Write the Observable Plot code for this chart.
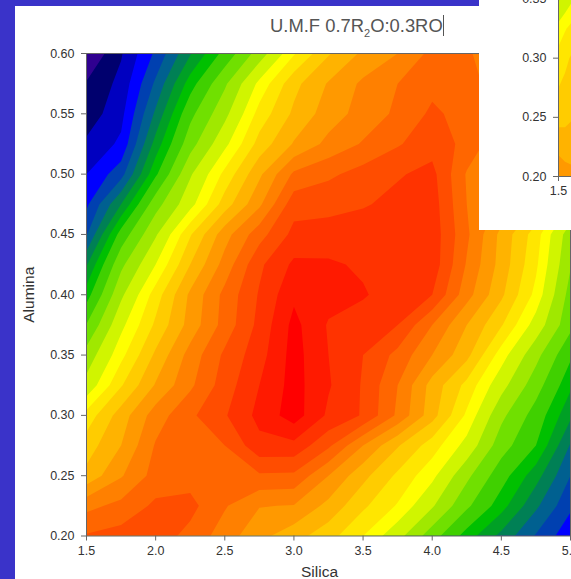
<!DOCTYPE html>
<html><head><meta charset="utf-8">
<script src="https://cdn.jsdelivr.net/npm/d3@7"></script>
<script src="https://cdn.jsdelivr.net/npm/@observablehq/plot@0.6"></script>
<style>
html,body{margin:0;padding:0;width:571px;height:579px;overflow:hidden;background:#3a33c9;font-family:"Liberation Sans",Arial,sans-serif}
#panel{position:absolute;left:15px;top:6px;width:556px;height:573px;background:#fff}
#main{position:absolute;left:0;top:0}
#title{position:absolute;left:270px;top:14px;font-size:18.4px;color:#555;white-space:nowrap;line-height:24px}
#title sub{font-size:11px;line-height:0}
#title span{border-right:1px solid #555}
#xlabel{position:absolute;left:301px;top:563px;font-size:15.5px;color:#333;line-height:18px}
#inset{position:absolute;left:479px;top:0;width:92px;height:230px;background:#fff;overflow:hidden}
#inset>svg{position:absolute;left:0;top:-10px}
</style></head><body>
<div id="panel"></div><div id="main"></div>
<div id="title"><span>U.M.F 0.7R<sub>2</sub>O:0.3RO</span></div>
<div id="xlabel">Silica</div>
<div id="inset"></div>
<script>
const silica=[1.5,1.75,2,2.25,2.5,2.75,3,3.25,3.5,3.75,4,4.25,4.5,4.75,5];
const alumina=[0.6,0.575,0.55,0.525,0.5,0.475,0.45,0.425,0.4,0.375,0.35,0.325,0.3,0.275,0.25,0.225,0.2];
const r060=[0.0,1.9,4.2,6.9,9.4,12.1,14.9,16.9,18.2,19.0,20.3,20.1,19.5,19,18];
const r0575=[1.1,2.3,5.2,8.5,11.3,14.3,16.7,18.1,19.2,20.0,20.7,20.3,19.6,19,18];
const r055=[1.4,2.7,6.2,9.9,12.4,15.4,17.2,18.5,19.4,20.2,21.2,20.6,19.3,19,18];
const r0525=[2.2,3.2,7.4,11.0,13.7,16.4,18.1,19.3,20.1,20.9,21.6,20.7,19.2,18.7,18];
const r050=[3.0,4.6,8.8,12.6,15.3,17.8,20.2,20.8,21.4,21.9,22.3,19.9,19,18.5,17.5];
const r0475=[3.8,7.0,11.0,13.6,16.5,18.8,21.6,21.7,21.9,22.3,22.5,20,18.8,17,14];
const r045=[4.9,9.5,12.6,15.9,18.6,20.6,22.3,22.4,22.6,22.7,22.6,20.2,17.7,15.5,12];
const r0425=[6.9,11.2,14,17,19.4,21.8,23.2,23.15,22.85,22.8,22.6,19.9,17.6,15.2,11.6];
const r040=[8.5,12.5,15.5,18.2,20.3,22.1,23.8,23.4,23.1,22.5,22,19.4,17.2,14.7,11];
const r0375=[10.3,13.7,16.2,18.4,20.4,22.3,24.3,22.9,22.5,22,20,18,16.1,13.5,10.6];
const r035=[12,14.7,17.2,19.4,21.2,22.6,24.4,23,22,20.7,19,17.3,14.5,11.9,9.2];
const r0325=[13.2,15.9,18.1,19.8,21.5,23,24.4,23.1,21.9,20,17.6,15.7,13.2,10.8,8.2];
const r030=[15.4,17.5,19.5,20.8,21.9,23.3,24.5,22.8,21.9,19.8,17.4,14.8,11.8,9.7,7.2];
const r0275=[16.5,18,20.1,20.3,21,22.7,22.7,21.2,19,17.1,15.5,13.6,10.8,9,5.9];
const r025=[17.3,18.9,20.4,20.6,20.8,20.85,20.8,19,17.3,15.8,14.3,11.8,9.5,7.4,5];
const r0225=[19.7,20.3,21.2,21.3,20.1,19.05,18.95,17.7,16.2,14.9,12.9,10.5,8.4,6.2,4.2];
const r020=[21.1,21.4,21.5,20.7,19.5,18.3,17.4,16.4,15,13.2,10.8,8.5,6.7,4.9,3.3];
const levels=[1,2,3,4,5,6,7,8,9,10.25,11.5,12.75,14,15,16,17,18,19,20,21,22,23,24];
const bandColors=["#2f0090","#00006e","#0000c0","#0000ff","#0040b0","#006090","#008055","#00a025","#00c000","#40d000","#70e000","#a0e800","#d0f500","#ffff00","#ffe600","#ffcc00","#ffb300","#ff9900","#ff8000","#ff6600","#ff4d00","#ff3300","#ff1a00","#ff0000"];
const xTicks=[1.5,2,2.5,3,3.5,4,4.5,5];
const yTicks=[0.2,0.25,0.3,0.35,0.4,0.45,0.5,0.55,0.6];
const insetSilica=[1.5,1.547,1.594];
const insetAlumina=[0.35,0.325,0.3,0.275,0.25,0.225,0.2];
const insetRow035=[12.6,13.2,13.8];
const insetRow0325=[14.4,14.9,15.3];
const insetRow030=[15.4,15.8,16.1];
const insetRow0275=[16,16.2,16.4];
const insetRow025=[16.6,16.7,16.9];
const insetRow0225=[17.8,17.6,17.7];
const insetRow020=[18.5,18.4,18.2];
const insetYTicks=[0.2,0.25,0.3,0.35];

const grid=[r060,r0575,r055,r0525,r050,r0475,r045,r0425,r040,r0375,r035,r0325,r030,r0275,r025,r0225,r020].flat();
const insetGrid=[insetRow035,insetRow0325,insetRow030,insetRow0275,insetRow025,insetRow0225,insetRow020].flat();
const color={type:"threshold",domain:levels,range:bandColors};
const ink="#333", line="#666", fs=12.5;

function contourMark(values,xs,ys){
  const dx=(xs[1]-xs[0])/2, dy=(ys[0]-ys[1])/2;
  return Plot.contour(values,{
    width:xs.length,height:ys.length,
    x1:xs[0]-dx,x2:xs[xs.length-1]+dx,
    y1:ys[0]+dy,y2:ys[ys.length-1]-dy,
    value:d=>d,fill:"value",stroke:"none",
    thresholds:[-1,...levels],clip:true
  });
}

const main=Plot.plot({
  width:571,height:579,marginLeft:86,marginRight:1,marginTop:53,marginBottom:43.5,
  style:{background:"transparent",fontFamily:"Liberation Sans, Arial, sans-serif",color:ink},
  x:{domain:[1.5,5]},y:{domain:[0.2,0.6]},color,
  marks:[
    contourMark(grid,silica,alumina),
    Plot.frame({stroke:line}),
    Plot.axisX({ticks:xTicks,tickFormat:d3.format(".1f"),tickSize:5,tickPadding:5,fontSize:fs,label:null,stroke:line}),
    Plot.axisY({ticks:yTicks,tickFormat:d3.format(".2f"),tickSize:5,tickPadding:7,fontSize:fs,label:"Alumina",labelAnchor:"center",labelArrow:false,labelOffset:64,stroke:line})
  ]
});
main.querySelectorAll('[aria-label="y-axis label"] text').forEach(t=>t.setAttribute("font-size",15.5));
document.getElementById("main").append(main);

const inset=Plot.plot({
  width:92,height:240,marginLeft:79,marginRight:0,marginTop:8.5,marginBottom:54,
  style:{background:"transparent",fontFamily:"Liberation Sans, Arial, sans-serif",color:ink},
  x:{domain:[1.5,1.594]},y:{domain:[0.2,0.35]},color,
  marks:[
    contourMark(insetGrid,insetSilica,insetAlumina),
    Plot.ruleX([1.5],{stroke:line}),
    Plot.ruleY([0.2],{stroke:line}),
    Plot.axisX({ticks:[1.5],tickFormat:d3.format(".1f"),tickSize:5,tickPadding:5,fontSize:fs,label:null,stroke:line}),
    Plot.axisY({ticks:insetYTicks,tickFormat:d3.format(".2f"),tickSize:5,tickPadding:7,fontSize:fs,label:null,stroke:line})
  ]
});
document.getElementById("inset").append(inset);
</script>
</body></html>
